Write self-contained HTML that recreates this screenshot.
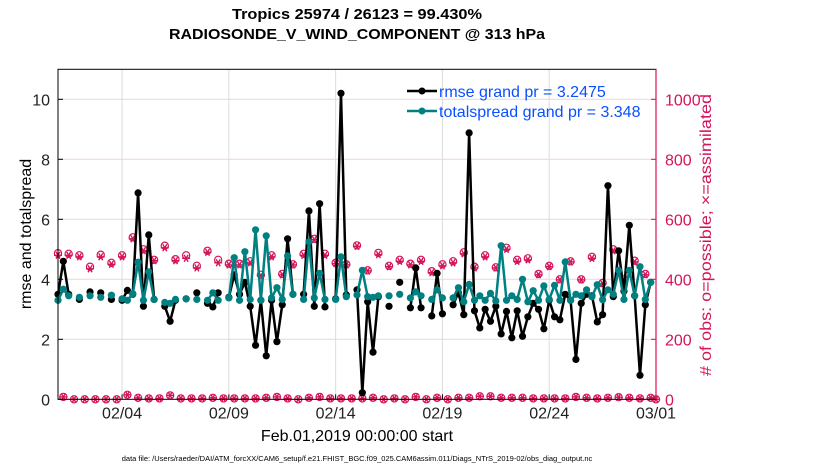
<!DOCTYPE html>
<html><head><meta charset="utf-8"><style>
body{margin:0;background:#fff;}
svg{display:block;font-family:"Liberation Sans",Arial,sans-serif;}
</style></head><body>
<svg id="chart" width="830" height="470" viewBox="0 0 830 470" xmlns="http://www.w3.org/2000/svg">
<rect x="0" y="0" width="830" height="470" fill="#fff"/>
<text x="357" y="19" text-anchor="middle" font-weight="bold" font-size="15" textLength="250" lengthAdjust="spacingAndGlyphs">Tropics 25974 / 26123 = 99.430%</text>
<text x="357" y="39" text-anchor="middle" font-weight="bold" font-size="15" textLength="376" lengthAdjust="spacingAndGlyphs">RADIOSONDE_V_WIND_COMPONENT @ 313 hPa</text>
<g id="grid"></g>
<g id="marks"></g>
<g id="axes"></g>
<text transform="translate(31,234) rotate(-90)" text-anchor="middle" font-size="16">rmse and totalspread</text>
<text transform="translate(711,235) rotate(-90)" text-anchor="middle" font-size="16" textLength="282" lengthAdjust="spacingAndGlyphs" fill="#d6135a"># of obs: o=possible; ×=assimilated</text>
<text x="357" y="441" text-anchor="middle" font-size="16">Feb.01,2019 00:00:00 start</text>
<text x="357" y="461" text-anchor="middle" font-size="7.5">data file: /Users/raeder/DAI/ATM_forcXX/CAM6_setup/f.e21.FHIST_BGC.f09_025.CAM6assim.011/Diags_NTrS_2019-02/obs_diag_output.nc</text>
<g>
<line x1="407" y1="91" x2="437" y2="91" stroke="#000" stroke-width="2.5"/>
<circle cx="422" cy="91" r="3.5" fill="#000"/>
<text x="439" y="97" font-size="16" fill="#0a50ff">rmse grand pr = 3.2475</text>
<line x1="407" y1="111" x2="437" y2="111" stroke="#008080" stroke-width="2.5"/>
<circle cx="422" cy="111" r="3.5" fill="#008080"/>
<text x="439" y="117" font-size="16" fill="#0a50ff">totalspread grand pr = 3.348</text>
</g>
</svg>
<script>
const rmse=[3.5,4.6,3.5,null,3.33,null,3.58,null,3.55,null,3.33,null,3.3,3.63,3.5,6.88,3.1,5.48,3.33,null,3.1,2.6,3.3,null,3.35,null,3.55,null,3.2,3.08,3.55,null,3.4,4.15,3.5,3.9,3.1,1.8,3.3,1.45,3.3,1.92,3.15,5.35,3.5,null,3.5,6.28,3.1,6.52,3.08,null,3.35,10.2,3.48,null,3.65,0.22,3.25,1.57,3.42,null,3.1,null,3.9,null,3.05,4.38,3.05,null,2.78,4.2,2.85,null,3.15,3.55,2.82,8.88,2.95,2.38,3.0,2.6,3.1,2.18,2.93,2.05,2.95,2.1,2.75,3.2,3.0,2.35,3.3,2.75,2.65,3.5,3.3,1.33,3.2,3.5,3.45,2.58,2.82,7.12,3.42,4.95,3.6,5.8,3.45,0.8,3.15,3.9,null];
const spread=[3.3,3.67,3.45,null,3.4,null,3.45,null,3.4,null,3.47,null,3.35,3.3,3.52,4.57,3.3,4.25,3.33,null,3.23,3.2,3.33,null,3.35,null,3.33,null,3.3,3.55,3.3,null,3.38,4.72,3.3,4.92,3.33,5.65,3.3,5.45,3.38,3.72,3.33,4.78,3.5,null,3.33,5.25,3.38,4.2,3.33,null,3.33,4.75,3.42,null,3.48,4.3,3.42,3.4,3.45,null,3.45,null,3.5,null,3.38,3.58,3.45,null,3.33,3.65,3.38,null,3.38,3.72,3.25,3.83,3.3,3.45,3.3,3.53,3.28,5.12,3.3,3.45,3.33,4.0,3.25,3.62,3.3,3.78,3.33,3.8,3.3,4.58,3.3,3.5,3.45,3.65,3.42,3.82,3.32,3.65,3.5,4.3,3.33,4.3,3.45,4.42,3.33,3.9,null];
const nPossible=[487,8,485,0,480,0,442,0,482,0,455,0,480,15,540,5,500,3,465,3,512,13,467,3,480,3,445,3,495,5,465,3,452,3,452,3,460,3,415,5,480,8,418,3,450,0,485,5,535,8,485,3,455,3,450,3,513,3,430,5,488,0,445,3,465,0,452,8,465,0,427,5,450,0,460,5,490,5,442,10,480,10,440,5,505,5,465,5,470,3,418,3,445,3,400,3,460,8,400,5,475,3,388,5,500,7,400,5,462,3,418,5,0];
const nAssim=[480,8,480,0,475,0,435,0,475,0,450,0,475,15,535,5,495,3,462,3,505,13,462,3,470,3,438,3,490,5,455,3,448,3,448,3,455,3,412,5,475,8,415,3,448,0,480,5,532,8,480,3,452,3,448,3,510,3,428,5,482,0,442,3,460,0,448,8,460,0,422,5,445,0,455,5,485,5,438,10,475,10,438,5,500,5,460,5,465,3,415,3,442,3,398,3,458,8,398,5,470,3,385,5,495,7,398,5,458,3,415,5,0];
const xTickLabels=["02/04","02/09","02/14","02/19","02/24","03/01"];
const xTickDays=[3,8,13,18,23,28];
const yTicks=[0,2,4,6,8,10];
const y2Ticks=[0,200,400,600,800,1000];

const NS="http://www.w3.org/2000/svg";
const L=58,R=656,T=69.3,B=399.3;
const xScale=d=>L+(d/28)*(R-L);
const yScale=v=>B-(v/11)*(B-T);
const y2Scale=v=>B-(v/1100)*(B-T);
function mk(tag,attrs,parent){const e=document.createElementNS(NS,tag);for(const k in attrs)e.setAttribute(k,attrs[k]);parent.appendChild(e);return e;}
const grid=document.getElementById('grid'),marks=document.getElementById('marks'),axes=document.getElementById('axes');
xTickDays.forEach((d,i)=>{
  const x=xScale(d);
  if(i<xTickDays.length-1){const g=mk('line',{x1:x,y1:T,x2:x,y2:B,stroke:'#dcdcdc','stroke-width':1},grid);
  
  }
  const tk=mk('line',{x1:x,y1:B,x2:x,y2:B-5,stroke:'#000'},axes);
  
  
  const t=mk('text',{x:x,y:B+19,'text-anchor':'middle','font-size':16,fill:'#222'},axes);
  t.textContent=xTickLabels[i];
  
  
});
yTicks.forEach(v=>{
  const y=yScale(v);
  if(v>0){const g=mk('line',{x1:L,y1:y,x2:R,y2:y,stroke:'#efd3df','stroke-width':1},grid);
  
  }
  const t=mk('text',{x:L-8,y:y+6,'text-anchor':'end','font-size':16,fill:'#222'},axes);
  t.textContent=v;
  
  
  mk('line',{x1:L,y1:y,x2:L+5,y2:y,stroke:'#000'},axes);
});
y2Ticks.forEach(v=>{
  const y=y2Scale(v);
  const t=mk('text',{x:R+9,y:y+6,'font-size':16,fill:'#d6135a'},axes);
  t.textContent=v;
  
  
  mk('line',{x1:R,y1:y,x2:R-5,y2:y,stroke:'#d6135a'},axes);
});
const bx=mk('rect',{x:L,y:T,width:R-L,height:B-T,fill:'none',stroke:'#000','stroke-width':1},axes);


const ra=mk('line',{x1:R,y1:T,x2:R,y2:B,stroke:'#d6135a','stroke-width':1.2},axes);



const xi=i=>xScale(i*0.25);
function counts(arr,name,kind){
  arr.forEach((v,i)=>{
    if(v==null)return;
    const x=xi(i),y=y2Scale(v);
    const g=mk('g',{},marks);
    
    
    if(kind==='o'){mk('circle',{cx:x,cy:y,r:3.6,fill:'none',stroke:'#d6135a','stroke-width':1.2},g);}
    else{[0,60,120].forEach(a=>{const r=a*Math.PI/180;mk('line',{x1:x-4*Math.cos(r),y1:y-4*Math.sin(r),x2:x+4*Math.cos(r),y2:y+4*Math.sin(r),stroke:'#d6135a','stroke-width':1.4},g);});}
  });
}
counts(nPossible,'obs-possible-marker','o');
counts(nAssim,'obs-assimilated-marker','*');
function series(arr,color,name){
  let d='',pen=false;
  arr.forEach((v,i)=>{if(v==null){pen=false;return;}d+=(pen?'L':'M')+xi(i).toFixed(2)+' '+yScale(v).toFixed(2)+' ';pen=true;});
  const p=mk('path',{d:d,fill:'none',stroke:color,'stroke-width':2.5,'stroke-linejoin':'round'},marks);
  
  
  arr.forEach((v,i)=>{if(v==null)return;
    const c=mk('circle',{cx:xi(i),cy:yScale(v),r:3.6,fill:color},marks);
    
    
  });
}
series(rmse,'#000','rmse');
series(spread,'#008080','totalspread');
</script>
</body></html>
